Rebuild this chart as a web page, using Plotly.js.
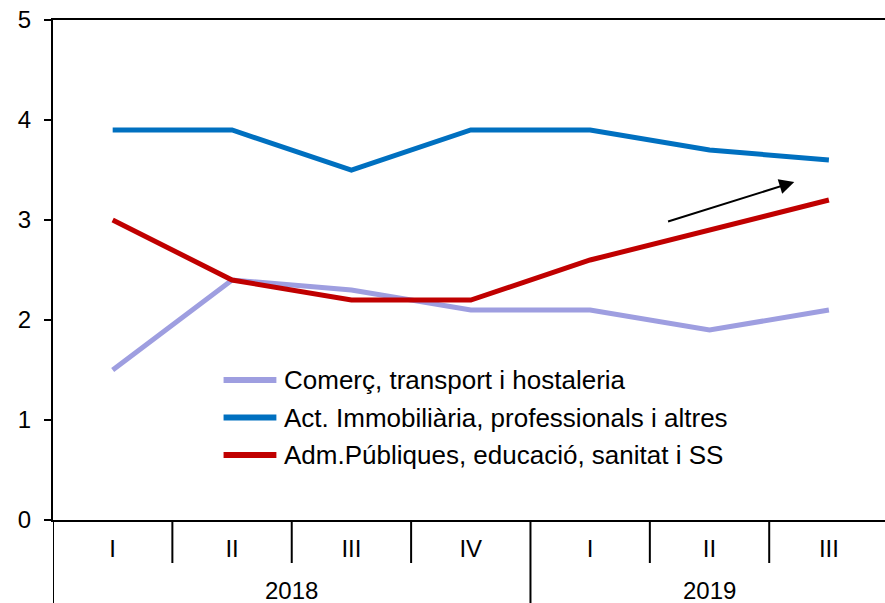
<!DOCTYPE html>
<html>
<head>
<meta charset="utf-8">
<script src="https://cdn.plot.ly/plotly-3.0.1.min.js"></script>
<style>html,body{margin:0;padding:0;background:#fff;}#chart{width:885px;height:603px;}</style>
</head>
<body>
<div id="chart"></div>
<script>
// ---- data ----
var quarters = ["I", "II", "III", "IV", "I", "II", "III"];
var years = ["2018", "2019"];
var yearSpans = [[0, 3], [4, 6]]; // category index ranges for each year
var seriesNames = [
  "Comerç, transport i hostaleria",
  "Act. Immobiliària, professionals i altres",
  "Adm.Públiques, educació, sanitat i SS"
];
var comerc = [1.5, 2.4, 2.3, 2.1, 2.1, 1.9, 2.1];
var actImmob = [3.9, 3.9, 3.5, 3.9, 3.9, 3.7, 3.6];
var admPub = [3.0, 2.4, 2.2, 2.2, 2.6, 2.9, 3.2];
var seriesColors = ["#9E9EE0", "#0070C0", "#C00000"];
var yTicks = [0, 1, 2, 3, 4, 5];
// arrow annotation (tail -> head), in data units
var arrowTail = [4.64, 2.98];
var arrowHead = [5.71, 3.38];

var FONT = "Liberation Sans, Arial, sans-serif";
var xIdx = quarters.map(function (_, i) { return i; });
var allSeries = [comerc, actImmob, admPub];

var traces = allSeries.map(function (vals, k) {
  return {
    type: "scatter", mode: "lines", x: xIdx, y: vals, name: seriesNames[k],
    line: { color: seriesColors[k], width: 5 }, showlegend: false, hoverinfo: "skip"
  };
});

var shapes = [];
var annotations = [];
// dividers below x axis
for (var i = 1; i < quarters.length; i++) {
  var isYearBreak = yearSpans.some(function (s) { return s[0] === i; });
  shapes.push({
    type: "line", xref: "x", yref: "paper", x0: i - 0.5, x1: i - 0.5,
    y0: 0, y1: isYearBreak ? -0.17 : -0.086,
    line: { color: "#000", width: 2 }
  });
}
// left axis extension down to bottom
shapes.push({ type: "line", xref: "x", yref: "paper", x0: -0.5, x1: -0.5, y0: 0, y1: -0.17, line: { color: "#000", width: 2 } });
// year labels
yearSpans.forEach(function (s, k) {
  annotations.push({
    xref: "x", yref: "paper", x: (s[0] + s[1]) / 2, y: -0.14, yanchor: "middle",
    text: years[k], showarrow: false, font: { family: FONT, size: 24, color: "#000" }
  });
});
// manual legend
var legY = [0.28, 0.205, 0.13];
seriesNames.forEach(function (nm, k) {
  shapes.push({
    type: "line", xref: "paper", yref: "paper", x0: 0.205, x1: 0.2685, y0: legY[k], y1: legY[k],
    line: { color: seriesColors[k], width: 6 }
  });
  annotations.push({
    xref: "paper", yref: "paper", x: 0.2755, y: legY[k], xanchor: "left", yanchor: "middle",
    text: nm, showarrow: false, font: { family: FONT, size: 26, color: "#000" }
  });
});
// arrow
annotations.push({
  xref: "x", yref: "y", axref: "x", ayref: "y",
  x: arrowHead[0], y: arrowHead[1], ax: arrowTail[0], ay: arrowTail[1],
  text: "", showarrow: true, arrowhead: 2, arrowsize: 1.5, arrowwidth: 2, arrowcolor: "#000"
});

var layout = {
  width: 885, height: 603,
  margin: { l: 53, r: 0, t: 20, b: 83, pad: 0 },
  paper_bgcolor: "#fff", plot_bgcolor: "#fff",
  showlegend: false,
  font: { family: FONT, size: 24, color: "#000" },
  xaxis: {
    range: [-0.5, 6.47], tickvals: xIdx, ticktext: quarters, ticks: "",
    showline: true, linecolor: "#000", linewidth: 2, mirror: true,
    showgrid: false, zeroline: false, fixedrange: true,
    tickfont: { family: FONT, size: 24, color: "#000" }, ticklabelstandoff: 6
  },
  yaxis: {
    range: [0, 5], tickvals: yTicks, ticks: "outside", ticklen: 7, tickwidth: 2, tickcolor: "#000",
    showline: true, linecolor: "#000", linewidth: 2, mirror: false,
    showgrid: false, zeroline: false, fixedrange: true,
    tickfont: { family: FONT, size: 24, color: "#000" }, ticklabelstandoff: 8
  },
  shapes: shapes,
  annotations: annotations
};

Plotly.newPlot("chart", traces, layout, { displayModeBar: false, staticPlot: true });
</script>
</body>
</html>
